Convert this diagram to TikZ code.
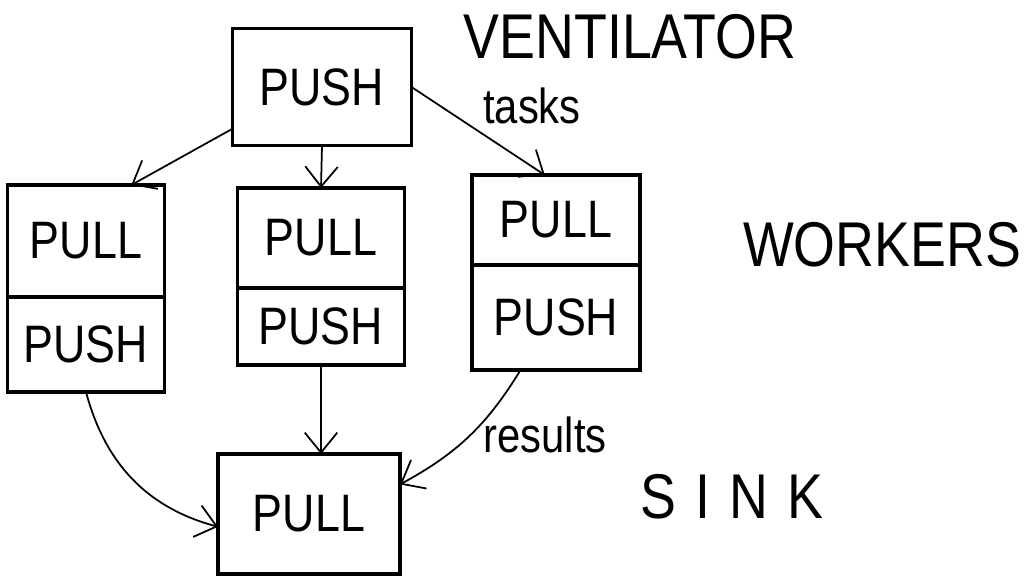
\documentclass[tikz,border=0pt]{standalone}
\usepackage{fontspec}
\setmainfont{Liberation Sans}[FakeStretch=0.85]
\usetikzlibrary{arrows.meta, positioning}

\begin{document}
\begin{tikzpicture} [x=0.02cm, y=-0.02cm,
        sock/.style = {draw, line width=1.8pt, outer sep=0pt, inner sep=0pt,
                       font=\fontsize{30}{34}\selectfont},
        role/.style = {font=\fontsize{36}{40}\selectfont},
        lbl/.style = {font=\fontsize{28}{32}\selectfont}]
        \useasboundingbox (0,0) rectangle (1027,577);

        % ventilator
        \node (vent) [sock, minimum width=3.58cm, minimum height=2.34cm] at (322,87) {PUSH};
        \node (ventlbl) [role] at (630,37) {VENTILATOR};
        \node (tasks) [lbl] at (532,106) {tasks};

        % workers
        \node (w1pull) [sock, minimum width=3.14cm, minimum height=2.24cm] at (86,241) {PULL};
        \node (w1push) [sock, minimum width=3.14cm, minimum height=1.9cm, below=0pt of w1pull] {PUSH};
        \node (w2pull) [sock, minimum width=3.34cm, minimum height=2.0cm] at (321,238) {PULL};
        \node (w2push) [sock, minimum width=3.34cm, minimum height=1.54cm, below=0pt of w2pull] {PUSH};
        \node (w3pull) [sock, minimum width=3.36cm, minimum height=1.8cm] at (556,220) {PULL};
        \node (w3push) [sock, minimum width=3.36cm, minimum height=2.1cm, below=0pt of w3pull] {PUSH};
        \node (workerslbl) [role] at (882,245) {WORKERS};

        % sink
        \node (sink) [sock, minimum width=3.64cm, minimum height=2.4cm] at (309,514) {PULL};
        \node (sinklbl) [role] at (732,497) {\addfontfeature{LetterSpace=30}SINK};
        \node (results) [lbl] at (545,435) {results};

        \path [-{Straight Barb[length=4mm, width=6.5mm]}, line width=1pt]
        (vent.205) edge (w1pull.51)
        (vent.south) edge (w2pull.north)
        (vent.east) edge (w3pull.104)
        (w1push.south) edge [out=-75, in=165] (sink.188)
        (w2push.south) edge (w2push.south |- sink.north)
        (w3push.236) edge [bend left=15] (sink.18)
        ;
    \end{tikzpicture}
\end{document}
